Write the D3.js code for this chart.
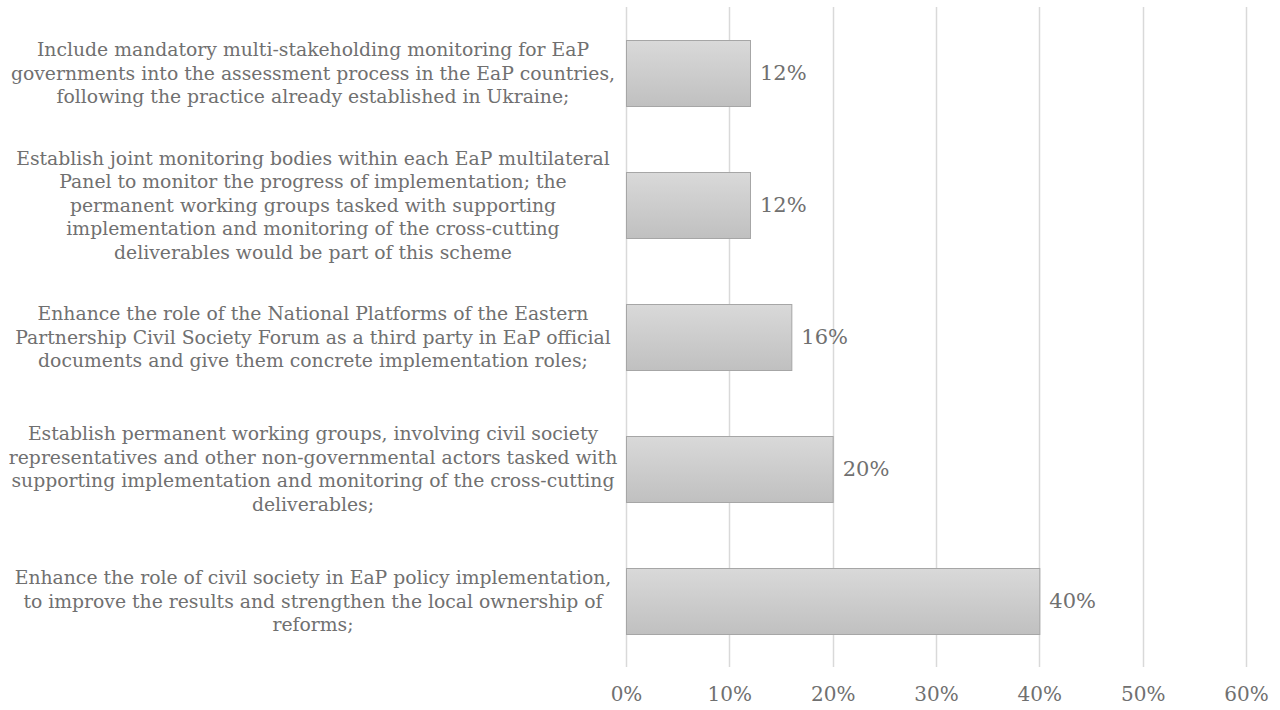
<!DOCTYPE html>
<html><head><meta charset="utf-8">
<script src="https://cdn.jsdelivr.net/npm/d3@7"></script>
<style>body{margin:0;background:#fff}svg{display:block}</style>
</head><body>
<svg id="c" width="1280" height="710"></svg>
<script>
const categories = [
  ["Include mandatory multi-stakeholding monitoring for EaP","governments into the assessment process in the EaP countries,","following the practice already established in Ukraine;"],
  ["Establish joint monitoring bodies within each EaP multilateral","Panel to monitor the progress of implementation; the","permanent working groups tasked with supporting","implementation and monitoring of the cross-cutting","deliverables would be part of this scheme"],
  ["Enhance the role of the National Platforms of the Eastern","Partnership Civil Society Forum as a third party in EaP official","documents and give them concrete implementation roles;"],
  ["Establish permanent working groups, involving civil society","representatives and other non-governmental actors tasked with","supporting implementation and monitoring of the cross-cutting","deliverables;"],
  ["Enhance the role of civil society in EaP policy implementation,","to improve the results and strengthen the local ownership of","reforms;"]
];
const values = [0.12, 0.12, 0.16, 0.20, 0.40];
const tickValues = [0, 0.1, 0.2, 0.3, 0.4, 0.5, 0.6];

const svg = d3.select("#c");
const font = "DejaVu Serif";
const fs = 18.8;
const color = "#707070";
const x = d3.scaleLinear().domain([0, 0.6]).range([626, 1246]);
const y = d3.scaleBand().domain(d3.range(categories.length)).range([7, 667]).padding(0.5).paddingOuter(0.25);

const defs = svg.append("defs");
const g = defs.append("linearGradient").attr("id","bg").attr("x1",0).attr("y1",0).attr("x2",0).attr("y2",1);
g.append("stop").attr("offset","0%").attr("stop-color","#d9d9d9");
g.append("stop").attr("offset","100%").attr("stop-color","#c0c0c0");

// gridlines
svg.append("g").selectAll("line").data(tickValues).join("line")
  .attr("x1", d=>Math.round(x(d))+0.5).attr("x2", d=>Math.round(x(d))+0.5)
  .attr("y1", 7).attr("y2", 667)
  .attr("stroke", "#d9d9d9").attr("stroke-width", 1.5);

// x axis labels
const xa = svg.append("g").attr("transform","translate(0,694)")
  .call(d3.axisBottom(x).tickValues(tickValues).tickFormat(d3.format(".0%")).tickSize(0));
xa.select(".domain").remove();
xa.selectAll("text").attr("font-family", font).attr("font-size", 20).attr("fill", color).attr("y", 0).attr("dy","0").attr("dominant-baseline","central");

// bars
svg.append("g").selectAll("rect").data(values).join("rect")
  .attr("x", x(0)+0.5).attr("y", (d,i)=>y(i)+0.5)
  .attr("width", d=>x(d)-x(0)).attr("height", y.bandwidth())
  .attr("fill","url(#bg)").attr("stroke","#a6a6a6").attr("stroke-width",1);

// value labels
svg.append("g").selectAll("text").data(values).join("text")
  .attr("x", d=>x(d)+10).attr("y",(d,i)=>y(i)+y.bandwidth()/2)
  .attr("dominant-baseline","central")
  .attr("font-family", font).attr("font-size", 21).attr("fill", color)
  .text(d=>d3.format(".0%")(d));

// category labels
const lh = 23.5;
const lab = svg.append("g").selectAll("text").data(categories).join("text")
  .attr("font-family", font).attr("font-size", fs).attr("fill", color)
  .attr("text-anchor","middle");
lab.each(function(lines,i){
  const cy = y(i)+y.bandwidth()/2;
  const t = d3.select(this);
  lines.forEach((ln,j)=>{
    t.append("tspan").attr("x",313).attr("y", cy + (j-(lines.length-1)/2)*lh)
      .attr("dominant-baseline","central").text(ln);
  });
});
</script>
</body></html>
